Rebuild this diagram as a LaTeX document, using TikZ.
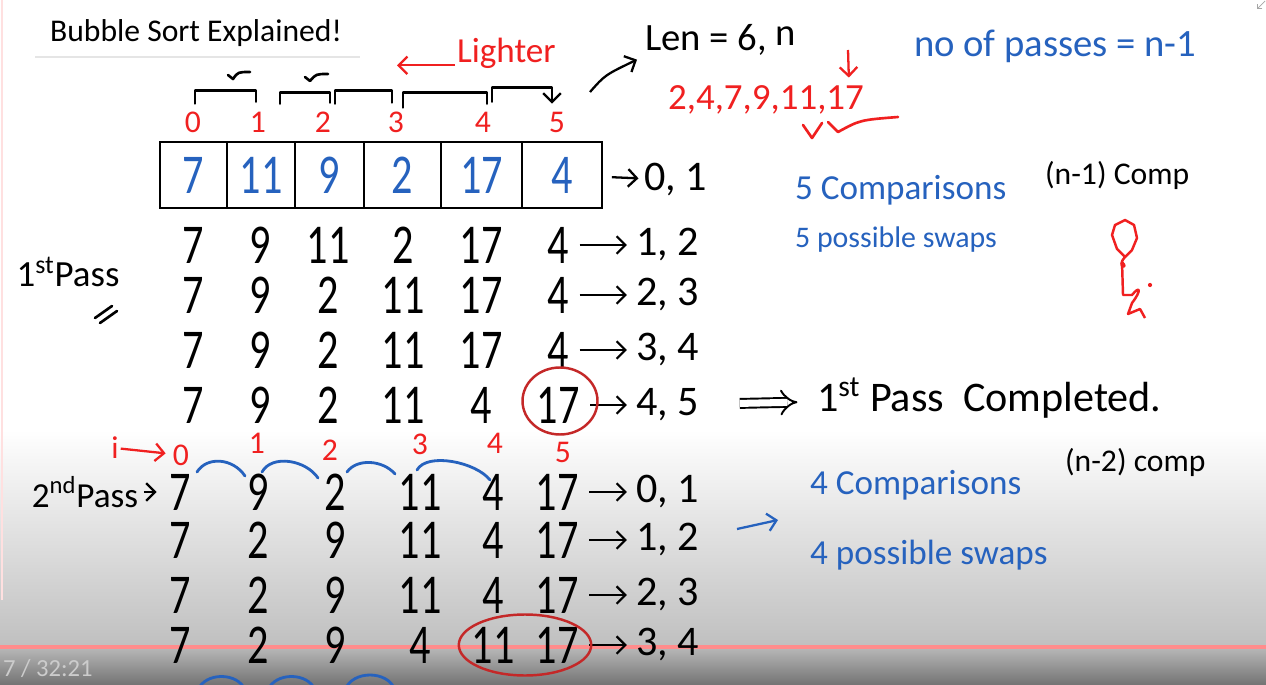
\documentclass[tikz,border=0pt]{standalone}
\usepackage{fontspec}
\usepackage{graphicx}
\setmainfont{Carlito}
\usetikzlibrary{arrows.meta,positioning,calc,shapes.geometric}
\definecolor{penblue}{RGB}{38,98,190}
\definecolor{penred}{RGB}{240,32,32}
\definecolor{ringred}{RGB}{196,40,40}
\newcommand{\hw}[1]{\scalebox{0.75}[1]{#1}}

\begin{document}
\begin{tikzpicture}[
    x=0.02cm, y=-0.02cm,
    every node/.style={inner sep=1pt},
    num/.style={font=\fontsize{32}{34}\selectfont},
    bluenum/.style={num, text=penblue},
    idx/.style={font=\fontsize{18}{20}\selectfont, text=penred},
    cell/.style={rectangle, draw, line width=1.2pt, minimum height=1.32cm},
    pair/.style={font=\fontsize{24}{26}\selectfont, anchor=west},
    bluenote/.style={font=\fontsize{20}{22}\selectfont, text=penblue, anchor=west},
    blacknote/.style={font=\fontsize{18}{20}\selectfont, anchor=west},
    arr/.style={-{Straight Barb[length=5pt]}, line width=1.3pt},
    brk/.style={line width=1.5pt, line join=round, line cap=round},
    arcline/.style={penblue, line width=1.6pt, line cap=round},
    ring/.style={ellipse, draw=ringred, line width=1.4pt}
]
\useasboundingbox (0,0) rectangle (1266,685);

% Screen background
\fill[white] (0,0) rectangle (1266,685);
\shade[top color=white, bottom color=gray!50] (0,430) rectangle (1266,647);
\shade[top color=gray!55, bottom color=black!55] (0,647) rectangle (1266,685);
\draw[red!45, line width=2pt] (0,647) -- (1266,647);
\draw[red!12, line width=1.5pt] (2,0) -- (2,600);
\draw[gray!70, -{Straight Barb[length=2pt]}, line width=0.4pt] (1265,1) -- (1257,9);
\node[text=gray!40, font=\fontsize{14}{16}\selectfont, anchor=west] (clock) at (1,668) {7 / 32:21};

% Title
\node[font=\fontsize{18}{20}\selectfont, anchor=west] (title) at (48,33) {Bubble Sort Explained!};
\draw[gray!20, line width=0.6pt] (35,57) -- (360,57);

% Array and its indices
\foreach \x/\w/\v [count=\i from 0] in {193.5/1.34/7, 261/1.36/11, 329.5/1.38/9,
                                        402.5/1.54/2, 481.5/1.62/17, 562/1.60/4}
    \node[cell, bluenum, minimum width=\w cm] (c\i) at (\x,175) {\hw{\v}};
\foreach \x [count=\i from 0] in {193,258,323,396,483,557}
    \node[idx] (i\i) at (\x,122) {\i};
\node[pair] (l0) at (642,180) {0, 1};
\draw[arr, shorten <=5pt, shorten >=2pt] (c5) -- (l0);

% Comparison brackets
\draw[brk] ($(i0.north)+(2,-6)$) |- ($(i1.north)+(-2,-19)$) -- ++(0,11);
\draw[brk] ($(i1.north)+(22,-6)$) |- ($(i2.north)+(7,-17)$) -- ++(0,10);
\draw[brk] ($(i2.north)+(12,-6)$) |- ($(i3.north)+(-4,-19)$) -- ++(0,12);
\draw[brk] ($(i3.north)+(7,-2)$) |- ($(i4.north)+(4,-17)$) -- ++(0,11);
\draw[brk, arr] ($(i4.north)+(9,-8)$) |- ($(i5.north)+(-5,-22)$) -- ++(0,16);
\draw[brk] (228,75) -- (233,79) .. controls (238,72) .. (250,72);
\draw[brk] (305,77) -- (310,81) .. controls (316,74) .. (328,74);
\node[font=\fontsize{20}{22}\selectfont, text=penred, anchor=west] (lighter) at (455,53) {Lighter};
\draw[arr, penred] ([yshift=-7pt]lighter.west) -- ++(-58,0);

% Length and sorted result
\node[font=\fontsize{22}{24}\selectfont, anchor=west] (len) at (643,40) {Len = 6,\raisebox{3pt}{ n}};
\coordinate (lenfrom) at (590,92);
\draw[arr] (lenfrom) .. controls (605,75) .. ($(len.south west)+(-6,2)$);
\node[font=\fontsize{21}{23}\selectfont, text=penred, anchor=west] (sorted) at (666,100) {2,4,7,9,11,17};
\coordinate (downfrom) at (848,50);
\draw[arr, penred] (downfrom) -- ($(sorted.north east)+(-17,-6)$);
\draw[brk, penred] (803,125) -- (812,138) -- (822,123);
\draw[brk, penred] (828,122) -- (838,132) .. controls (860,120) .. (898,117);
\node[bluenote, font=\fontsize{22}{24}\selectfont] (passes) at (912,46) {no of passes = n-1};

% First pass
\foreach \r/\y/\vals/\lab in {1/245/{7,9,11,2,17,4}/{1, 2}, 2/295/{7,9,2,11,17,4}/{2, 3},
                              3/350/{7,9,2,11,17,4}/{3, 4}, 4/405/{7,9,2,11,4,17}/{4, 5}} {
    \foreach \v [count=\i from 0] in \vals {
        \pgfmathsetmacro\cx{{193,260,328,403,481,558}[\i]}
        \node[num] (r\r c\i) at (\cx,\y) {\hw{\v}};
    }
    \node[pair] (l\r) at (634,\y) {\lab};
    \draw[arr, shorten <=5pt, shorten >=4pt] (r\r c5) -- (l\r);
}
\node[ring, minimum width=1.5cm, minimum height=1.34cm] (ring1) at (560,401) {};
\node[font=\fontsize{21}{23}\selectfont] (pass1) at (68,272) {1\textsuperscript{st}Pass};
\draw[brk] (95,318) -- (112,306);
\draw[brk] (100,323) -- (117,311);

\node[font=\fontsize{24}{26}\selectfont, anchor=west] (done) at (815,398) {1\textsuperscript{st} Pass \ Completed.};
\draw[-Implies, double, double distance=4pt, line width=1.1pt,
      shorten <=22pt, shorten >=10pt] (l4) -- (done);

\node[bluenote] (comp1) at (793,190) {5 Comparisons};
\node[blacknote] (comp1n) at (1043,175) {(n-1) Comp};
\node[bluenote, font=\fontsize{17}{19}\selectfont] (swap1) at (793,240) {5 possible swaps};

% Stick figure doodle
\draw[penred, line width=1.4pt, line join=round] (1125,257) -- (1117,249) -- (1112,235) -- (1115,225)
    -- (1125,220) -- (1134,225) -- (1137,238) -- (1132,250) -- cycle;
\draw[penred, line width=1.4pt, line join=round] (1125,257) .. controls (1115,268) and (1130,270) .. (1122,262)
    -- (1123,295) -- (1132,295) .. controls (1140,285) and (1142,290) .. (1132,303)
    -- (1128,314) -- (1140,309) -- (1145,318);
\fill[penred] (1150,285) circle (1.2pt);

% Second pass
\foreach \x/\y [count=\i from 0] in {181/455, 257/443, 330/450, 420/444, 495/443, 563/452}
    \node[idx] (j\i) at (\x,\y) {\i};
\node[idx] (ilbl) at (115,448) {i};
\draw[arr, penred, shorten >=3pt] (ilbl) -- (j0);

\foreach \r/\y/\vals/\lab in {5/492/{7,9,2,11,4,17}/{0, 1}, 6/540/{7,2,9,11,4,17}/{1, 2},
                              7/595/{7,2,9,11,4,17}/{2, 3}, 8/645/{7,2,9,4,11,17}/{3, 4}} {
    \foreach \v [count=\i from 0] in \vals {
        \pgfmathsetmacro\cx{{180,258,335,420,493,557}[\i]}
        \node[num] (r\r c\i) at (\cx,\y) {\hw{\v}};
    }
    \node[pair] (l\r) at (634,\y) {\lab};
    \draw[arr, shorten <=5pt, shorten >=4pt] (r\r c5) -- (l\r);
}
\node[ring, minimum width=2.65cm, minimum height=1.22cm] (ring2) at ($(r8c4)!0.5!(r8c5)$) {};
\node[font=\fontsize{20}{22}\selectfont] (pass2) at (85,492) {2\textsuperscript{nd}Pass};
\draw[arr, shorten <=2pt, shorten >=6pt] (pass2) -- (r5c0);

\draw[arcline] ($(r5c0)+(17,-20)$) .. controls +(10,-16) and +(-12,-18) .. ($(r5c1)+(-13,-16)$);
\draw[arcline] ($(r5c1)+(4,-20)$) .. controls +(10,-18) and +(-12,-18) .. ($(r5c2)+(-17,-14)$);
\draw[arcline] ($(r5c2)+(12,-20)$) .. controls +(10,-14) and +(-12,-14) .. ($(r5c3)+(-25,-18)$);
\draw[arcline] ($(r5c3)+(-3,-22)$) .. controls +(10,-18) and +(-14,-18) .. ($(r5c4)+(-3,-12)$);

\coordinate (bfrom) at (737,529);
\coordinate (bto) at (778,520);
\draw[arr, penblue] (bfrom) -- (bto);
\node[bluenote] (comp2) at (808,485) {4 Comparisons};
\node[blacknote] (comp2n) at (1063,462) {(n-2) comp};
\node[bluenote] (swap2) at (808,555) {4 possible swaps};

% Next pass arcs (cut off)
\draw[arcline] (198,690) .. controls (205,672) and (238,672) .. (245,690);
\draw[arcline] (268,690) .. controls (275,672) and (308,672) .. (315,690);
\draw[arcline] (345,690) .. controls (352,670) and (388,670) .. (395,690);
\end{tikzpicture}
\end{document}
